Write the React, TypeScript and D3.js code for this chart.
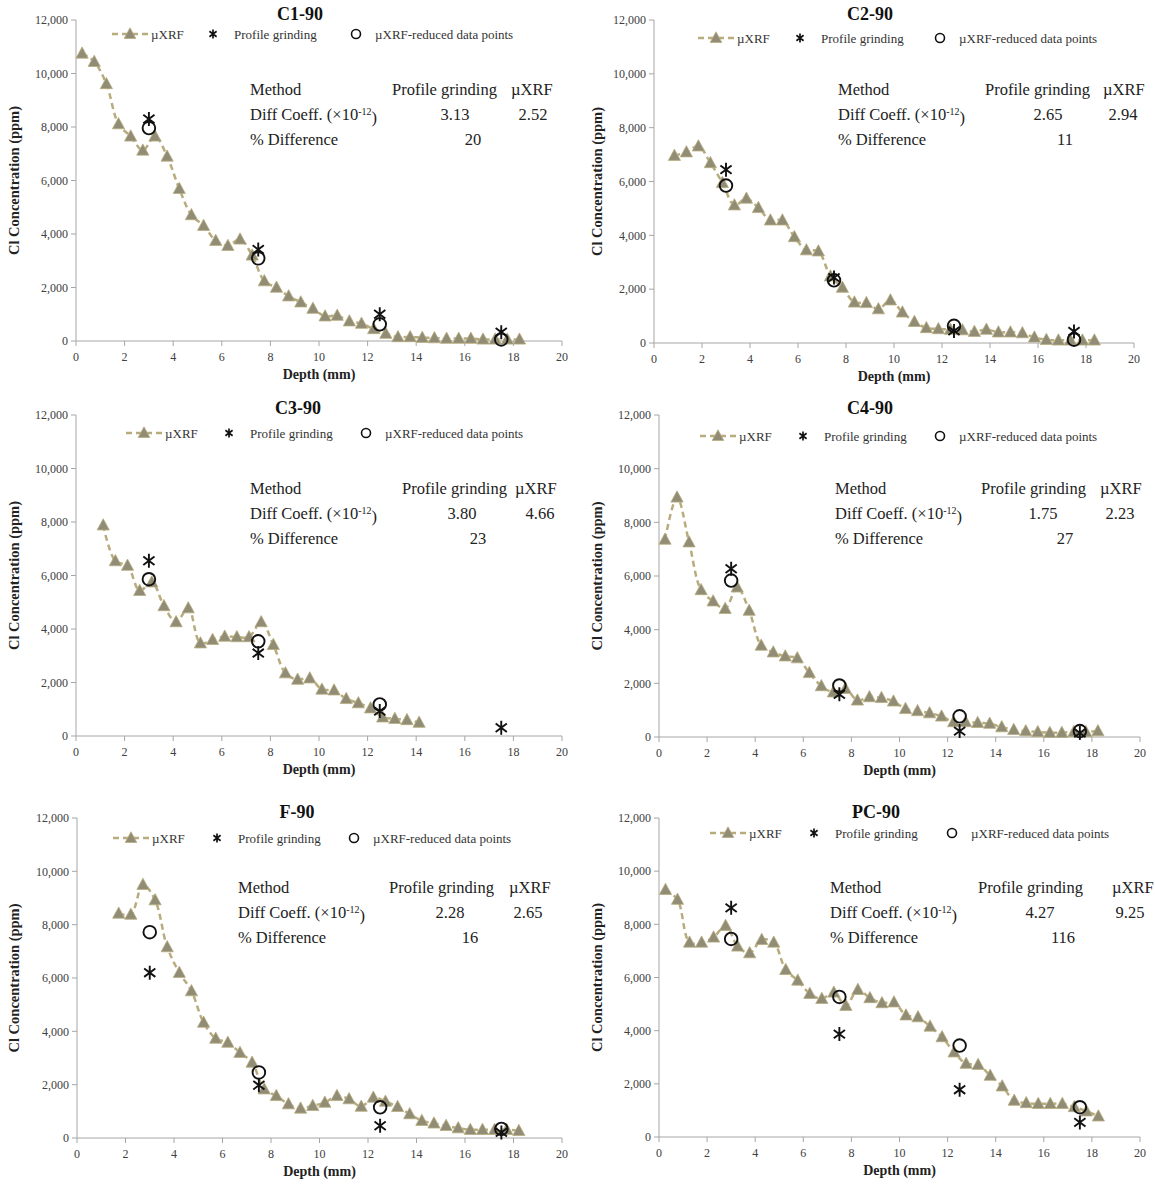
import React from "react";
import * as d3 from "d3";

// ---- Data: Cl concentration (ppm) vs depth (mm) ----
const panelTitles = ["C1-90", "C2-90", "C3-90", "C4-90", "F-90", "PC-90"];

const c1Depth = [0.25, 0.75, 1.25, 1.75, 2.25, 2.75, 3.25, 3.75, 4.25, 4.75, 5.25, 5.75, 6.25, 6.75, 7.25, 7.75, 8.25, 8.75, 9.25, 9.75, 10.25, 10.75, 11.25, 11.75, 12.25, 12.75, 13.25, 13.75, 14.25, 14.75, 15.25, 15.75, 16.25, 16.75, 17.25, 17.75, 18.25];
const c1Xrf = [10750, 10440, 9610, 8110, 7650, 7125, 7650, 6900, 5690, 4710, 4310, 3750, 3560, 3800, 3200, 2240, 2000, 1675, 1450, 1210, 925, 950, 740, 650, 450, 275, 150, 150, 125, 110, 90, 90, 90, 60, 60, 60, 60];
const c2Depth = [0.85, 1.35, 1.85, 2.35, 2.85, 3.35, 3.85, 4.35, 4.85, 5.35, 5.85, 6.35, 6.85, 7.35, 7.85, 8.35, 8.85, 9.35, 9.85, 10.35, 10.85, 11.35, 11.85, 12.35, 12.85, 13.35, 13.85, 14.35, 14.85, 15.35, 15.85, 16.35, 16.85, 17.35, 17.85, 18.35];
const c2Xrf = [6960, 7090, 7310, 6690, 5950, 5120, 5370, 5020, 4560, 4560, 3940, 3450, 3410, 2480, 2060, 1510, 1490, 1260, 1590, 1140, 790, 560, 520, 500, 480, 420, 500, 400, 400, 370, 210, 120, 100, 100, 100, 100];
const c3Depth = [1.12, 1.62, 2.12, 2.62, 3.12, 3.62, 4.12, 4.62, 5.12, 5.62, 6.12, 6.62, 7.12, 7.62, 8.12, 8.62, 9.12, 9.62, 10.12, 10.62, 11.12, 11.62, 12.12, 12.62, 13.12, 13.62, 14.12];
const c3Xrf = [7880, 6540, 6370, 5430, 5750, 4860, 4260, 4780, 3470, 3600, 3720, 3700, 3700, 4260, 3410, 2350, 2110, 2160, 1740, 1710, 1390, 1230, 1040, 700, 645, 600, 500];
const c4Depth = [0.25, 0.75, 1.25, 1.75, 2.25, 2.75, 3.25, 3.75, 4.25, 4.75, 5.25, 5.75, 6.25, 6.75, 7.25, 7.75, 8.25, 8.75, 9.25, 9.75, 10.25, 10.75, 11.25, 11.75, 12.25, 12.75, 13.25, 13.75, 14.25, 14.75, 15.25, 15.75, 16.25, 16.75, 17.25, 17.75, 18.25];
const c4Xrf = [7360, 8930, 7260, 5480, 5060, 4780, 5580, 4710, 3410, 3160, 3010, 2940, 2390, 1900, 1670, 1800, 1365, 1490, 1460, 1330, 1050, 970, 890, 770, 560, 560, 530, 500, 370, 270, 220, 190, 160, 160, 190, 190, 220];
const fDepth = [1.72, 2.22, 2.72, 3.22, 3.72, 4.22, 4.72, 5.22, 5.72, 6.22, 6.72, 7.22, 7.72, 8.22, 8.72, 9.22, 9.72, 10.22, 10.72, 11.22, 11.72, 12.22, 12.72, 13.22, 13.72, 14.22, 14.72, 15.22, 15.72, 16.22, 16.72, 17.22, 17.72, 18.22];
const fXrf = [8420, 8380, 9500, 8920, 7160, 6200, 5510, 4330, 3730, 3580, 3200, 2830, 1830, 1580, 1270, 1110, 1210, 1330, 1580, 1460, 1180, 1520, 1370, 1170, 900, 650, 550, 460, 370, 310, 310, 310, 310, 270];
const pcDepth = [0.27, 0.77, 1.27, 1.77, 2.27, 2.77, 3.27, 3.77, 4.27, 4.77, 5.27, 5.77, 6.27, 6.77, 7.27, 7.77, 8.27, 8.77, 9.27, 9.77, 10.27, 10.77, 11.27, 11.77, 12.27, 12.77, 13.27, 13.77, 14.27, 14.77, 15.27, 15.77, 16.27, 16.77, 17.27, 17.77, 18.27];
const pcXrf = [9300, 8930, 7320, 7320, 7510, 7950, 7170, 6920, 7420, 7320, 6290, 5890, 5390, 5200, 5440, 4940, 5540, 5230, 5040, 5070, 4580, 4510, 4160, 3760, 3190, 2760, 2720, 2310, 1910, 1370, 1280, 1250, 1250, 1250, 1130, 970, 780];

// Profile grinding depths and values
const grindDepth = [3, 7.5, 12.5, 17.5];
const c1Grind = [8300, 3420, 1000, 330];
const c2Grind = [6440, 2430, 450, 430];
const c3Grind = [6550, 3100, 930, 310];
const c4Grind = [6270, 1590, 220, 150];
const fGrind = [6200, 1980, 460, 210];
const pcGrind = [8620, 3870, 1780, 550];

// µXRF-reduced data points (same depths as grinding)
const c1Reduced = [7960, 3090, 625, 60];
const c2Reduced = [5850, 2330, 640, 125];
const c3Reduced = [5860, 3540, 1180];
const c4Reduced = [5830, 1920, 770, 220];
const fReduced = [7720, 2460, 1150, 340];
const pcReduced = [7450, 5270, 3440, 1120];

// Diffusion coefficients (×10^-12) and % difference
const diffGrinding = ["3.13", "2.65", "3.80", "1.75", "2.28", "4.27"];
const diffXrf = ["2.52", "2.94", "4.66", "2.23", "2.65", "9.25"];
const pctDiff = ["20", "11", "23", "27", "16", "116"];

const xTicks = [0, 2, 4, 6, 8, 10, 12, 14, 16, 18, 20];
const yTicks = [0, 2000, 4000, 6000, 8000, 10000, 12000];

const depths = [c1Depth, c2Depth, c3Depth, c4Depth, fDepth, pcDepth];
const xrfs = [c1Xrf, c2Xrf, c3Xrf, c4Xrf, fXrf, pcXrf];
const grinds = [c1Grind, c2Grind, c3Grind, c4Grind, fGrind, pcGrind];
const reduceds = [c1Reduced, c2Reduced, c3Reduced, c4Reduced, fReduced, pcReduced];

// ---- Layout ----
const layout = [
  { left: 76, right: 562, top: 20, bottom: 341, titleX: 300, titleY: 20, legY: 34, legX: 112, starX: 213, circX: 356, tx: 250, ty: 89, pgX: 392, xrfX: 511, v1: 455, v2: 533, pct: 473, axisTitleX: 14 },
  { left: 654, right: 1134, top: 20, bottom: 343, titleX: 870, titleY: 20, legY: 38, legX: 698, starX: 800, circX: 940, tx: 838, ty: 89, pgX: 985, xrfX: 1103, v1: 1048, v2: 1123, pct: 1065, axisTitleX: 597 },
  { left: 76, right: 562, top: 415, bottom: 736, titleX: 298, titleY: 414, legY: 433, legX: 126, starX: 229, circX: 366, tx: 250, ty: 488, pgX: 402, xrfX: 515, v1: 462, v2: 540, pct: 478, axisTitleX: 14 },
  { left: 659, right: 1140, top: 415, bottom: 737, titleX: 870, titleY: 414, legY: 436, legX: 700, starX: 803, circX: 940, tx: 835, ty: 488, pgX: 981, xrfX: 1100, v1: 1043, v2: 1120, pct: 1065, axisTitleX: 597 },
  { left: 77, right: 562, top: 818, bottom: 1138, titleX: 297, titleY: 818, legY: 838, legX: 113, starX: 217, circX: 354, tx: 238, ty: 887, pgX: 389, xrfX: 509, v1: 450, v2: 528, pct: 470, axisTitleX: 14 },
  { left: 659, right: 1140, top: 818, bottom: 1137, titleX: 876, titleY: 818, legY: 833, legX: 710, starX: 814, circX: 952, tx: 830, ty: 887, pgX: 978, xrfX: 1112, v1: 1040, v2: 1130, pct: 1063, axisTitleX: 597 },
];

const FONT = "'Liberation Serif', 'Times New Roman', serif";
const LINE_COLOR = "#b8ac7e";
const TRI_FILL = "#918c76";
const AXIS_COLOR = "#a6a6a6";
const TICK_TEXT = "#404040";

const triPath = (s: number) => `M0,${-s * 0.62}L${s * 0.58},${s * 0.45}L${-s * 0.58},${s * 0.45}Z`;
const starPath = (s: number) =>
  `M0,${-s}L0,${s}M${-s * 0.8},${-s * 0.6}L${s * 0.8},${s * 0.6}M${-s * 0.8},${s * 0.6}L${s * 0.8},${-s * 0.6}`;

function Panel({ i }: { i: number }) {
  const L = layout[i];
  const x = d3.scaleLinear().domain([0, 20]).range([L.left, L.right]);
  const y = d3.scaleLinear().domain([0, 12000]).range([L.bottom, L.top]);
  const pts = depths[i].map((d, k) => [d, xrfs[i][k]] as [number, number]);
  const line = d3
    .line<[number, number]>()
    .x((d) => x(d[0]))
    .y((d) => y(d[1]))
    .curve(d3.curveCatmullRom.alpha(0.5));
  const fmt = d3.format(",");
  const midY = (L.top + L.bottom) / 2;

  return (
    <g>
      {/* axes */}
      <line x1={L.left} x2={L.left} y1={L.top} y2={L.bottom} stroke={AXIS_COLOR} strokeWidth={1} />
      <line x1={L.left} x2={L.right} y1={L.bottom} y2={L.bottom} stroke={AXIS_COLOR} strokeWidth={1} />
      {yTicks.map((t) => (
        <g key={"y" + t}>
          <line x1={L.left - 5} x2={L.left} y1={y(t)} y2={y(t)} stroke={AXIS_COLOR} />
          <text x={L.left - 8} y={y(t)} dy="0.35em" textAnchor="end" fontSize={12} fill={TICK_TEXT} fontFamily={FONT}>
            {fmt(t)}
          </text>
        </g>
      ))}
      {xTicks.map((t) => (
        <g key={"x" + t}>
          <line x1={x(t)} x2={x(t)} y1={L.bottom} y2={L.bottom + 5} stroke={AXIS_COLOR} />
          <text x={x(t)} y={L.bottom + 16} dy="0.35em" textAnchor="middle" fontSize={12} fill={TICK_TEXT} fontFamily={FONT}>
            {t}
          </text>
        </g>
      ))}
      <text x={(L.left + L.right) / 2} y={L.bottom + 33} dy="0.35em" textAnchor="middle" fontSize={14} fontWeight="bold" fill="#222" fontFamily={FONT}>
        Depth (mm)
      </text>
      <text
        transform={`translate(${L.axisTitleX},${midY}) rotate(-90)`}
        textAnchor="middle"
        dy="0.35em"
        fontSize={14.5}
        fontWeight="bold"
        fill="#222"
        fontFamily={FONT}
      >
        Cl Concentration (ppm)
      </text>
      <text x={L.titleX} y={L.titleY} textAnchor="middle" fontSize={18} fontWeight="bold" fill="#111" fontFamily={FONT}>
        {panelTitles[i]}
      </text>

      {/* µXRF profile */}
      <path d={line(pts) || ""} fill="none" stroke={LINE_COLOR} strokeWidth={2.5} strokeDasharray="6,4" />
      {pts.map((p, k) => (
        <path key={"t" + k} d={triPath(10.5)} transform={`translate(${x(p[0])},${y(p[1])})`} fill={TRI_FILL} stroke={LINE_COLOR} strokeWidth={0.8} />
      ))}

      {/* Profile grinding */}
      {grinds[i].map((v, k) => (
        <path key={"s" + k} d={starPath(7)} transform={`translate(${x(grindDepth[k])},${y(v)})`} fill="none" stroke="#111" strokeWidth={1.9} />
      ))}
      {/* µXRF-reduced data points */}
      {reduceds[i].map((v, k) => (
        <circle key={"c" + k} cx={x(grindDepth[k])} cy={y(v)} r={6.3} fill="none" stroke="#111" strokeWidth={1.9} />
      ))}

      {/* legend */}
      <g fontFamily={FONT} fontSize={13} fill="#333">
        <line x1={L.legX} x2={L.legX + 37} y1={L.legY} y2={L.legY} stroke={LINE_COLOR} strokeWidth={2.5} strokeDasharray="6,4" />
        <path d={triPath(10)} transform={`translate(${L.legX + 18},${L.legY})`} fill={TRI_FILL} stroke={LINE_COLOR} strokeWidth={0.8} />
        <text x={L.legX + 39} y={L.legY} dy="0.35em">µXRF</text>
        <path d={starPath(4.5)} transform={`translate(${L.starX},${L.legY})`} fill="none" stroke="#111" strokeWidth={1.7} />
        <text x={L.starX + 21} y={L.legY} dy="0.35em">Profile grinding</text>
        <circle cx={L.circX} cy={L.legY} r={4.5} fill="none" stroke="#111" strokeWidth={1.6} />
        <text x={L.circX + 19} y={L.legY} dy="0.35em">µXRF-reduced data points</text>
      </g>

      {/* results table */}
      <g fontFamily={FONT} fontSize={16.5} fill="#222">
        <text x={L.tx} y={L.ty} dy="0.35em">Method</text>
        <text x={L.pgX} y={L.ty} dy="0.35em">Profile grinding</text>
        <text x={L.xrfX} y={L.ty} dy="0.35em">µXRF</text>
        <text x={L.tx} y={L.ty + 25} dy="0.35em">
          Diff Coeff. (×10
          <tspan fontSize={10} dy="-0.5em">-12</tspan>
          <tspan dy="0.5em">)</tspan>
        </text>
        <text x={L.v1} y={L.ty + 25} dy="0.35em" textAnchor="middle">{diffGrinding[i]}</text>
        <text x={L.v2} y={L.ty + 25} dy="0.35em" textAnchor="middle">{diffXrf[i]}</text>
        <text x={L.tx} y={L.ty + 50} dy="0.35em">% Difference</text>
        <text x={L.pct} y={L.ty + 50} dy="0.35em" textAnchor="middle">{pctDiff[i]}</text>
      </g>
    </g>
  );
}

export default function App() {
  return (
    <svg
      width={1155}
      height={1185}
      viewBox="0 0 1155 1185"
      style={{ position: "absolute", left: 0, top: 0, background: "#fff" }}
    >
      <rect width={1155} height={1185} fill="#fff" />
      {panelTitles.map((_, i) => (
        <Panel key={i} i={i} />
      ))}
    </svg>
  );
}
